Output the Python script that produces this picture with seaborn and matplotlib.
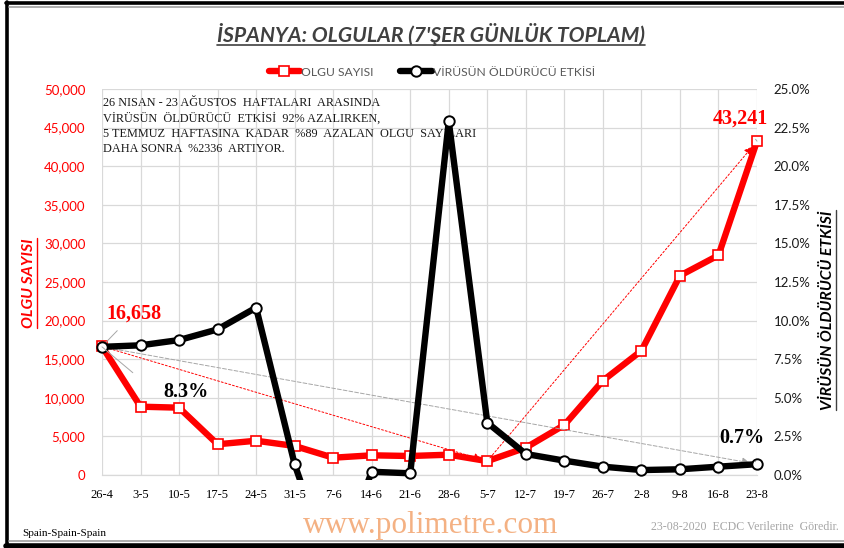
import numpy as np
import pandas as pd
import matplotlib
matplotlib.use("Agg")
import matplotlib.pyplot as plt
import seaborn as sns
from matplotlib.lines import Line2D
from matplotlib.transforms import Bbox, TransformedBbox
from matplotlib.ticker import FuncFormatter, MultipleLocator

# ---------------- data ----------------
weeks = ["26-4", "3-5", "10-5", "17-5", "24-5", "31-5", "7-6", "14-6", "21-6",
         "28-6", "5-7", "12-7", "19-7", "26-7", "2-8", "9-8", "16-8", "23-8"]
cases = [16658, 8850, 8720, 3980, 4440, 3760, 2240, 2550, 2460,
         2630, 1800, 3540, 6480, 12220, 16100, 25820, 28460, 43241]
lethality = [8.3, 8.4, 8.74, 9.43, 10.84, 0.69, -6.5, 0.21, 0.11,
             22.9, 3.39, 1.36, 0.93, 0.54, 0.32, 0.37, 0.54, 0.7]

title = "İSPANYA: OLGULAR (7'ŞER GÜNLÜK TOPLAM)"
series_names = ["OLGU SAYISI", "VİRÜSÜN ÖLDÜRÜCÜ ETKİSİ"]
note_lines = ["26 NISAN - 23 AĞUSTOS  HAFTALARI  ARASINDA",
              "VİRÜSÜN  ÖLDÜRÜCÜ  ETKİSİ  92% AZALIRKEN,",
              "5 TEMMUZ  HAFTASINA  KADAR  %89  AZALAN  OLGU  SAYILARI",
              "DAHA SONRA  %2336  ARTIYOR."]

df = pd.DataFrame({"pos": np.arange(len(weeks)), "week": weeks,
                   "cases": cases, "leth": lethality})

# ---------------- style ----------------
sns.set_style("white")
plt.rcParams["font.family"] = ["Lato", "DejaVu Sans"]
SERIF = ["Liberation Serif", "DejaVu Serif"]
RED = "#ff0000"
GRID = "#d9d9d9"

W, H = 845, 548
fig = plt.figure(figsize=(W / 100, H / 100), dpi=100)
ax = fig.add_axes([102 / W, 1 - 475 / H, 655 / W, 386 / H])
ax2 = ax.twinx()

# ---------------- lines ----------------
sns.lineplot(data=df, x="pos", y="cases", ax=ax, color=RED, linewidth=4.6,
             marker="s", markersize=6.5, markerfacecolor="white",
             markeredgecolor=RED, markeredgewidth=1.2, legend=False)
sns.lineplot(data=df, x="pos", y="leth", ax=ax2, color="black", linewidth=4.6,
             marker="o", markersize=7.5, markerfacecolor="white",
             markeredgecolor="black", markeredgewidth=1.4, legend=False)

n = len(weeks)
ax.set_xlim(0, n - 1)
ax.set_ylim(0, 50000)
ax2.set_ylim(0, 25)

red_line = ax.lines[0]
blk_line = ax2.lines[0]
red_line.set_clip_on(False)
clip = TransformedBbox(Bbox([[-0.03, -0.013], [1.03, 1.03]]), ax2.transAxes)
blk_line.set_clip_box(clip)
blk_line.set_zorder(5)

# ---------------- axes styling ----------------
ax.set_xticks(df["pos"])
ax.set_xticklabels(weeks, fontfamily=SERIF, fontsize=9, color="black")
ax.yaxis.set_major_locator(MultipleLocator(5000))
ax.yaxis.set_major_formatter(FuncFormatter(lambda v, p: f"{v:,.0f}"))
ax2.yaxis.set_major_locator(MultipleLocator(2.5))
ax2.yaxis.set_major_formatter(FuncFormatter(lambda v, p: f"{v:.1f}%"))
ax.tick_params(axis="y", colors=RED, labelsize=9.5, length=0, pad=12)
ax2.tick_params(axis="y", colors="#1a1a1a", labelsize=9.5, length=0, pad=12)
ax.tick_params(axis="x", length=4, color=GRID, pad=6)
ax.grid(True, color=GRID, linewidth=0.9)
ax.set_axisbelow(True)
for a in (ax, ax2):
    for s in a.spines.values():
        s.set_visible(False)
    a.set_xlabel("")
    a.set_ylabel("")
ax.spines["bottom"].set_visible(True)
ax.spines["bottom"].set_color(GRID)
ax.spines["bottom"].set_linewidth(0.9)

# ---------------- trend arrows ----------------
i_min = 10
ax.annotate("", xy=(df.pos[i_min], cases[i_min]), xytext=(0, cases[0]),
            arrowprops=dict(arrowstyle="-|>", color=RED, lw=0.7, ls=(0, (2, 2)),
                            mutation_scale=12, shrinkA=0, shrinkB=4), zorder=3)
ax.annotate("", xy=(n - 1, cases[-1]), xytext=(df.pos[i_min], cases[i_min]),
            arrowprops=dict(arrowstyle="-|>", color=RED, lw=0.7, ls=(0, (2, 2)),
                            mutation_scale=12, shrinkA=3, shrinkB=5), zorder=3)
ax2.annotate("", xy=(n - 1, lethality[-1]), xytext=(0, lethality[0]),
             arrowprops=dict(arrowstyle="-|>", color="#a6a6a6", lw=0.7,
                             ls=(0, (4, 2)), mutation_scale=12, shrinkA=0, shrinkB=5),
             zorder=3)

# ---------------- data labels ----------------
lab_kw = dict(fontfamily=SERIF, fontweight="bold", fontsize=14.5)
ax.annotate(f"{cases[0]:,}", xy=(0, cases[0]), xytext=(32, 33),
            textcoords="offset pixels", ha="center", va="center", color=RED,
            arrowprops=dict(arrowstyle="-", color="#a6a6a6", lw=0.7,
                            shrinkA=4, shrinkB=0), zorder=6, **lab_kw)
ax.annotate(f"{cases[-1]:,}", xy=(n - 1, cases[-1]), xytext=(-17, 23),
            textcoords="offset pixels", ha="center", va="center", color=RED,
            arrowprops=dict(arrowstyle="-", color="#a6a6a6", lw=0.7,
                            shrinkA=7, shrinkB=0), zorder=6, **lab_kw)
ax2.annotate(f"{lethality[0]}%", xy=(0, lethality[0]), xytext=(84, -45),
             textcoords="offset pixels", ha="center", va="center", color="black",
             arrowprops=dict(arrowstyle="-", color="#a6a6a6", lw=0.7,
                             connectionstyle="angle,angleA=0,angleB=-40,rad=0",
                             shrinkA=24, shrinkB=0), zorder=6, **lab_kw)
ax2.annotate(f"{lethality[-1]}%", xy=(n - 1, lethality[-1]), xytext=(-15, 26),
             textcoords="offset pixels", ha="center", va="center", color="black",
             arrowprops=dict(arrowstyle="-", color="#a6a6a6", lw=0.7,
                             shrinkA=8, shrinkB=2), zorder=6, **lab_kw)

# ---------------- note ----------------
ax.text(0.03, 48900, "\n".join(note_lines), fontfamily=SERIF, fontsize=8.8,
        color="#1a1a1a", va="top", ha="left", linespacing=1.32, zorder=2)

# ---------------- title / legend / axis titles ----------------
t_title = fig.text(431 / W, 1 - 34 / H, title, ha="center", va="center",
                   fontsize=15.2, fontweight="bold", fontstyle="italic",
                   color="#404040")
t_left = fig.text(29 / W, 1 - 283 / H, series_names[0], rotation=90,
                  ha="center", va="center", fontsize=11.3, fontweight="bold",
                  fontstyle="italic", color=RED)
t_right = fig.text(828 / W, 1 - 310 / H, series_names[1], rotation=90,
                   ha="center", va="center", fontsize=11.3, fontweight="bold",
                   fontstyle="italic", color="black")

leg = fig.legend(handles=[red_line, blk_line], labels=series_names, loc="center",
                 bbox_to_anchor=(432 / W, 1 - 72 / H), ncol=2, frameon=False,
                 fontsize=8.7, handlelength=2.6, handletextpad=0.1,
                 columnspacing=2.2)
for txt in leg.get_texts():
    txt.set_color("#595959")

# ---------------- footer ----------------
fig.text(22 / W, 1 - 534 / H, "Spain-Spain-Spain", fontfamily=SERIF, fontsize=8,
         color="black", ha="left", va="center")
fig.text(431 / W, 1 - 526 / H, "www.polimetre.com", fontfamily=SERIF,
         fontsize=22.5, color="#f4b183", ha="center", va="center")
fig.text(839 / W, 1 - 527 / H, "23-08-2020  ECDC Verilerine  Göredir.",
         fontfamily=SERIF, fontsize=8.6, color="#a6a6a6", ha="right", va="center")

# ---------------- underlines ----------------
fig.canvas.draw()
rend = fig.canvas.get_renderer()


def underline(t, color, lw, vertical=False):
    bb = t.get_window_extent(rend)
    if vertical:
        x = (bb.x1 + 1) / W
        fig.add_artist(Line2D([x, x], [bb.y0 / H, bb.y1 / H], color=color, lw=lw))
    else:
        y = (bb.y0 + 1) / H
        fig.add_artist(Line2D([bb.x0 / W, bb.x1 / W], [y, y], color=color, lw=lw))


underline(t_title, "#404040", 1.2)
underline(t_left, RED, 1.0, vertical=True)
underline(t_right, "#404040", 1.0, vertical=True)

# ---------------- frame ----------------
fig.add_artist(Line2D([7.5 / W, 7.5 / W], [0, 1 - 2 / H], color="black", lw=2.6))
fig.add_artist(Line2D([6 / W, 1], [1 - 2.5 / H, 1 - 2.5 / H], color="black", lw=2.6))
fig.add_artist(Line2D([9 / W, 1], [1 - 6.5 / H, 1 - 6.5 / H], color="#a0a0a0", lw=1.2))
fig.add_artist(Line2D([6 / W, 1], [1 - 545.5 / H, 1 - 545.5 / H], color="black", lw=4))
fig.add_artist(Line2D([9 / W, 1], [1 - 540.5 / H, 1 - 540.5 / H], color="#a0a0a0", lw=1.2))

fig.savefig("out.png", dpi=100)
